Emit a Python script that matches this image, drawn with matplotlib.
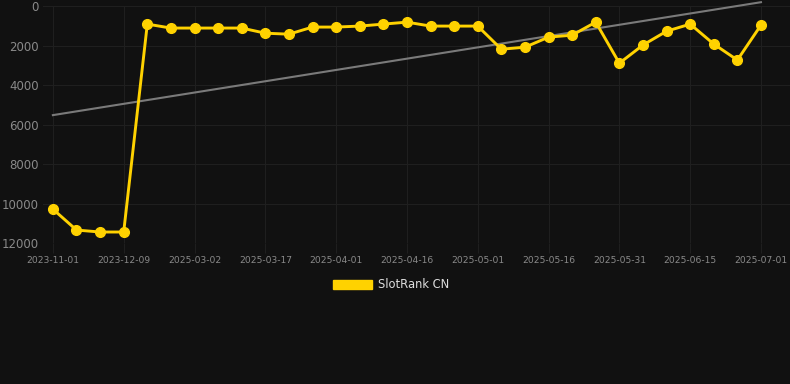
import matplotlib
matplotlib.use("Agg")
import matplotlib.pyplot as plt
from matplotlib.patches import Patch

# rank values (lower = better, axis reversed)
ranks = [10280, 11340, 11440, 11440, 910, 1110, 1110, 1110, 1110, 1370, 1420,
         1060, 1060, 1010, 910, 810, 1010, 1010, 1010, 2180, 2080,
         1570, 1470, 810, 2890, 1970, 1270, 910, 1920, 2730, 960]
tick_labels = ["2023-11-01", "2023-12-09", "2025-03-02", "2025-03-17", "2025-04-01",
               "2025-04-16", "2025-05-01", "2025-05-16", "2025-05-31", "2025-06-15",
               "2025-07-01"]
trend_x = [0, 30]
trend_y = [5520, -200]
y_ticks = [0, 2000, 4000, 6000, 8000, 10000, 12000]

bg = "#111111"
gold = "#FFD200"
grid_c = "#1f1f1f"

fig = plt.figure(figsize=(7.9, 3.84), dpi=100, facecolor=bg)
ax = fig.add_axes([0.0544, 0.367, 0.9456, 0.617], facecolor=bg)

x = list(range(len(ranks)))
ax.plot(trend_x, trend_y, color="#7a7a7a", lw=1.5, clip_on=False, zorder=2)
ax.plot(x, ranks, color=gold, lw=2.1, marker="o", ms=7, zorder=3, clip_on=False)

ax.set_xlim(-0.42, 31.23)
ax.set_ylim(12000, 0)
ax.set_yticks(y_ticks)
ax.set_yticklabels([str(v) for v in y_ticks])
ax.set_xticks(x[::3])
ax.set_xticklabels(tick_labels)

ax.grid(True, color=grid_c, lw=0.8)
for s in ax.spines.values():
    s.set_visible(False)
ax.tick_params(axis="y", length=0, pad=3, labelsize=8.5, labelcolor="#8a8a8a")
ax.tick_params(axis="x", length=7, width=0.8, color=grid_c, pad=2,
               labelsize=6.6, labelcolor="#8a8a8a")

leg = fig.legend(handles=[Patch(facecolor=gold, edgecolor=gold)], labels=["SlotRank CN"],
                 loc="center", bbox_to_anchor=(0.495, 0.258), frameon=False,
                 handlelength=3.4, handleheight=0.9, handletextpad=0.5,
                 fontsize=8.3, labelcolor="#dddddd")

fig.savefig("out.png", dpi=100, facecolor=bg)
